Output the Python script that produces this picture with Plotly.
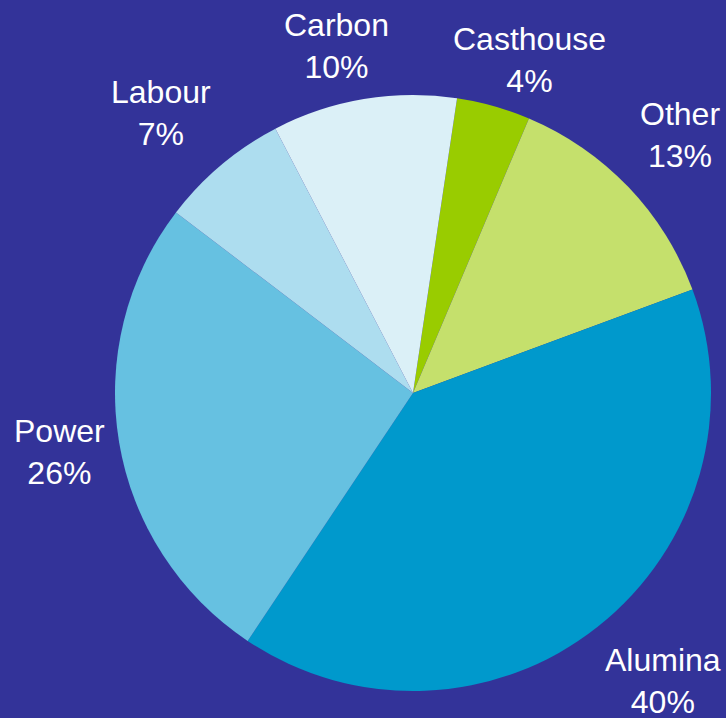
import plotly.graph_objects as go

labels = ["Casthouse", "Other", "Alumina", "Power", "Labour", "Carbon"]
values = [4, 13, 40, 26, 7, 10]
colors = ["#99CC00", "#C5E06C", "#0099CC", "#66C1E1", "#ADDDEF", "#DBF0F7"]

# label block centres (pixels from top-left)
label_pos = [(529, 60), (680, 135), (663, 681), (59, 452), (161, 113), (336, 46)]

W, H = 726, 718
cx, cy, r = 413, 393, 298
FONT = "Liberation Sans, Arial, sans-serif"

fig = go.Figure(go.Pie(
    labels=labels,
    values=values,
    sort=False,
    direction="clockwise",
    rotation=8.5,
    marker=dict(colors=colors, line=dict(width=0)),
    textinfo="none",
    showlegend=False,
    hoverinfo="label+percent",
    domain=dict(x=[(cx - r) / W, (cx + r) / W], y=[(H - cy - r) / H, (H - cy + r) / H]),
    automargin=False,
))

for lab, val, (px, py) in zip(labels, values, label_pos):
    fig.add_annotation(
        text=f"{lab}<br>{val}%",
        x=px / W, y=1 - py / H, xref="paper", yref="paper",
        xanchor="center", yanchor="middle", showarrow=False,
        font=dict(family=FONT, size=32, color="white"),
    )

fig.update_layout(
    width=W, height=H,
    margin=dict(l=0, r=0, t=0, b=0),
    paper_bgcolor="#333399",
    plot_bgcolor="#333399",
)

fig.write_html(
    "out.html",
    config={"displayModeBar": False},
    post_script="document.body.style.margin='0';document.body.style.background='#333399';",
)
